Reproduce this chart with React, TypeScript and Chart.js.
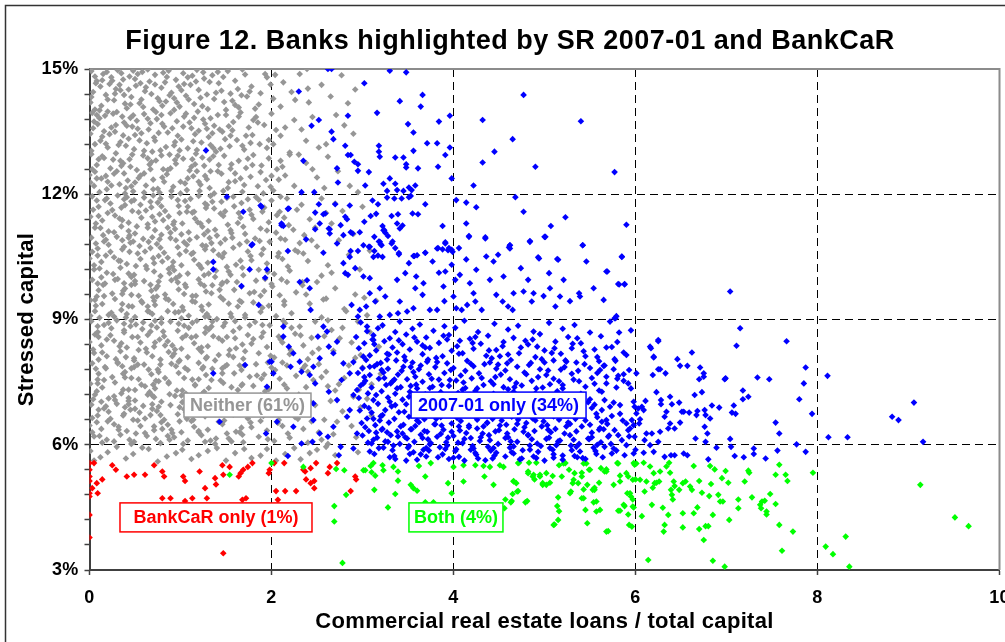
import React, { useEffect, useRef } from "react";
import { Chart, registerables } from "chart.js";
Chart.register(...registerables);

const chartTitle = "Figure 12. Banks highlighted by SR 2007-01 and BankCaR";
const xAxisTitle = "Commercial real estate loans / total capital";
const yAxisTitle = "Stressed capital";
const seriesNames = ["Neither (61%)", "2007-01 only (34%)", "BankCaR only (1%)", "Both (4%)"];
const xTickValues = [0, 2, 4, 6, 8, 10];
const yTickValues = [3, 6, 9, 12, 15];

// flat [x, y] pairs: x = CRE loans / total capital, y = stressed capital (%)
const neitherPts = [
0.02,14.95,0.15,14.88,0.31,14.97,0.44,14.82,0.58,14.93,0.72,14.86,0.87,14.96,1.03,14.9,1.18,14.98,1.35,14.85,1.52,14.95,1.68,14.99,0.08,14.71,0.22,14.64,0.37,14.75,0.51,14.6,0.66,14.7,0.79,14.55,0.95,14.74,1.11,14.62,1.26,14.77,1.42,14.66,1.6,14.72,1.78,14.58,1.95,14.8,0.04,14.45,0.18,14.38,0.29,14.52,0.46,14.33,0.61,14.47,0.75,14.3,0.9,14.43,1.06,14.36,1.2,14.5,1.37,14.28,1.55,14.41,1.73,14.34,0.01,14.2,0.13,14.12,0.27,14.25,0.41,14.06,0.55,14.18,0.7,14.03,0.84,14.22,0.99,14.1,1.15,14.16,1.3,14.04,1.48,14.21,1.64,14.08,1.86,14.15,0.35,14.9,0.64,14.99,0.98,14.58,1.25,14.92,0.12,14.58,0.06,14.82,0.24,14.8,0.5,14.76,0.83,14.68,1.08,14.8,0.33,14.62,0.68,14.4,0.2,14.27,0.57,14.27,0.93,14.3,1.22,14.31,0.06,14.03,0.38,14.38,1.45,14.48,0.8,14.12,2.39,15.0,1.93,14.88,2.04,14.86,2.92,14.51,2.4,14.53,2.22,14.45,2.84,14.18,2.41,14.2,2.26,14.26,2.65,14.34,1.88,14.42,2.1,14.1,
0.07,14.66,0.19,14.93,0.28,14.41,0.39,14.17,0.53,14.88,0.62,14.56,0.77,14.23,0.85,14.81,0.93,14.02,1.01,14.49,1.13,14.84,1.24,14.11,1.32,14.69,1.41,14.93,1.57,14.24,1.63,14.52,1.71,14.87,1.82,14.05,1.99,14.63,0.02,14.33,0.11,14.01,0.25,14.72,0.43,14.51,0.48,14.96,0.59,14.09,0.72,14.63,0.88,14.37,1.09,14.27,1.17,14.7,1.39,14.43,1.5,14.02,1.67,14.37,2.13,14.68,2.31,14.88,2.55,14.62,2.77,14.85,
0.14,14.73,0.34,14.49,0.56,14.66,0.81,14.91,1.04,14.64,1.29,14.39,1.47,14.81,1.76,14.46,2.02,14.29,0.45,14.15,0.96,14.2,1.6,14.14,
0.03,13.95,0.17,13.88,0.3,13.97,0.45,13.83,0.6,13.92,0.74,13.8,0.89,13.94,1.04,13.86,1.19,13.98,1.33,13.82,1.5,13.9,1.66,13.96,1.83,13.85,2.0,13.93,0.09,13.68,0.24,13.6,0.38,13.72,0.53,13.57,0.67,13.7,0.82,13.62,0.96,13.75,1.12,13.58,1.27,13.69,1.43,13.55,1.58,13.73,1.75,13.6,1.92,13.66,0.01,13.45,0.14,13.38,0.28,13.5,0.43,13.33,0.57,13.46,0.71,13.36,0.86,13.48,1.01,13.31,1.16,13.44,1.31,13.37,1.46,13.5,1.62,13.3,1.79,13.42,2.1,13.4,0.06,13.2,0.2,13.12,0.34,13.25,0.49,13.08,0.63,13.22,0.78,13.05,0.93,13.17,1.08,13.1,1.23,13.24,1.39,13.02,1.54,13.15,1.7,13.07,1.87,13.2,2.2,13.0,2.45,13.85,2.33,13.55,2.6,13.2,2.8,13.65,2.52,13.12,2.71,13.9,0.11,13.82,0.36,13.86,0.52,13.76,0.79,13.9,1.1,13.72,1.37,13.64,0.04,13.58,0.22,13.44,0.47,13.62,0.65,13.55,0.97,13.4,1.2,13.52,0.12,13.28,0.4,13.16,0.72,13.28,0.99,13.05,1.33,13.18,1.55,13.4,1.97,13.3,2.15,13.6,
0.05,13.74,0.16,13.51,0.26,13.93,0.32,13.18,0.41,13.64,0.55,13.29,0.64,13.81,0.76,13.47,0.84,13.13,0.91,13.58,1.06,13.93,1.14,13.27,1.25,13.79,1.35,13.46,1.44,13.09,1.53,13.63,1.64,13.86,1.72,13.4,1.85,13.72,1.95,13.11,2.05,13.54,0.02,13.04,0.2,13.98,0.37,13.41,0.48,13.89,0.69,13.02,0.8,13.69,1.03,13.62,1.18,13.06,1.29,13.57,1.49,13.32,1.77,13.23,2.25,13.78,2.38,13.28,2.9,13.45,
0.08,13.9,0.29,13.66,0.5,13.42,0.73,13.97,0.94,13.25,1.15,13.83,1.36,13.11,1.57,13.53,1.8,13.78,2.02,13.2,0.18,13.21,0.6,13.04,1.41,13.9,1.68,13.16,
0.02,12.96,0.16,12.87,0.29,12.98,0.44,12.84,0.59,12.93,0.73,12.81,0.88,12.95,1.03,12.85,1.17,12.97,1.32,12.83,1.48,12.92,1.64,12.8,1.8,12.94,1.97,12.86,0.08,12.7,0.23,12.62,0.37,12.74,0.52,12.58,0.66,12.71,0.81,12.6,0.95,12.73,1.1,12.57,1.26,12.68,1.41,12.55,1.56,12.72,1.72,12.63,1.89,12.69,2.06,12.6,0.0,12.46,0.13,12.38,0.27,12.49,0.42,12.33,0.56,12.45,0.7,12.35,0.85,12.48,1.0,12.3,1.14,12.43,1.29,12.36,1.45,12.49,1.6,12.31,1.77,12.42,1.94,12.34,2.15,12.45,0.05,12.2,0.19,12.12,0.33,12.24,0.48,12.07,0.62,12.21,0.77,12.04,0.92,12.18,1.07,12.1,1.22,12.23,1.37,12.02,1.52,12.15,1.68,12.06,1.85,12.19,2.02,12.09,2.25,12.2,2.38,12.75,2.5,12.4,2.62,12.9,2.73,12.55,2.86,12.2,2.3,12.95,2.95,12.05,0.1,12.84,0.34,12.8,0.64,12.86,0.94,12.82,1.24,12.88,0.03,12.6,0.3,12.55,0.6,12.5,0.89,12.62,1.18,12.55,0.2,12.3,0.5,12.28,0.8,12.4,1.08,12.38,0.11,12.05,0.4,12.15,0.7,12.12,1.0,12.02,1.32,12.15,1.6,12.5,2.1,12.8,
0.06,12.54,0.14,12.91,0.24,12.21,0.35,12.68,0.47,12.95,0.54,12.39,0.68,12.77,0.75,12.13,0.86,12.58,0.97,12.92,1.05,12.26,1.16,12.72,1.27,12.44,1.36,12.91,1.47,12.08,1.55,12.61,1.66,12.38,1.74,12.85,1.88,12.53,1.99,12.18,2.12,12.66,0.01,12.28,0.18,12.44,0.39,12.02,0.45,12.66,0.6,12.04,0.82,12.3,1.12,12.66,1.21,12.08,1.42,12.7,1.7,12.22,2.08,12.35,2.2,12.95,2.45,12.6,2.58,12.15,
0.08,12.38,0.26,12.83,0.46,12.19,0.67,12.6,0.9,12.08,1.13,12.84,1.33,12.55,1.53,12.29,1.79,12.7,2.0,12.44,0.38,12.5,0.79,12.93,1.2,12.3,1.91,12.02,
0.03,11.95,0.17,11.86,0.31,11.97,0.46,11.83,0.6,11.92,0.75,11.8,0.9,11.94,1.05,11.84,1.2,11.96,1.35,11.82,1.51,11.91,1.67,11.79,1.83,11.93,2.0,11.85,2.17,11.9,0.1,11.7,0.25,11.62,0.39,11.74,0.54,11.57,0.68,11.69,0.83,11.6,0.98,11.72,1.13,11.56,1.28,11.67,1.44,11.54,1.59,11.71,1.76,11.63,1.92,11.68,2.09,11.58,0.01,11.46,0.14,11.37,0.28,11.49,0.43,11.32,0.57,11.44,0.72,11.35,0.87,11.47,1.02,11.3,1.16,11.42,1.31,11.36,1.47,11.48,1.63,11.31,1.8,11.41,1.97,11.33,2.14,11.44,0.06,11.2,0.21,11.11,0.35,11.23,0.5,11.06,0.64,11.2,0.79,11.03,0.94,11.17,1.09,11.09,1.24,11.22,1.4,11.01,1.55,11.14,1.71,11.05,1.88,11.18,2.05,11.08,2.24,11.15,2.33,11.75,2.42,11.4,2.55,11.9,2.66,11.3,2.78,11.6,2.9,11.05,2.36,11.02,2.6,11.55,3.0,11.7,0.08,11.85,0.38,11.88,0.67,11.82,0.97,11.86,1.27,11.78,0.2,11.55,0.47,11.6,0.77,11.52,1.07,11.58,1.37,11.66,0.07,11.3,0.36,11.38,0.64,11.28,0.93,11.34,1.22,11.3,0.15,11.02,0.43,11.12,0.72,11.14,1.01,11.04,1.3,11.12,1.64,11.55,
0.04,11.63,0.12,11.19,0.23,11.78,0.33,11.42,0.41,11.93,0.52,11.23,0.62,11.61,0.7,11.97,0.81,11.38,0.89,11.08,0.99,11.55,1.11,11.89,1.19,11.33,1.29,11.74,1.38,11.15,1.49,11.59,1.58,11.94,1.69,11.22,1.78,11.51,1.86,11.87,1.95,11.13,2.06,11.5,0.19,11.9,0.44,11.01,0.56,11.75,0.79,11.71,0.92,11.28,1.15,11.58,1.33,11.96,1.52,11.27,1.74,11.88,2.19,11.26,2.28,11.63,2.48,11.2,2.7,11.78,
0.1,11.48,0.27,11.09,0.49,11.86,0.69,11.46,0.86,11.2,1.08,11.7,1.26,11.04,1.45,11.82,1.66,11.44,1.9,11.58,2.1,11.94,0.35,11.68,0.78,11.9,1.56,11.07,
0.02,10.96,0.16,10.87,0.3,10.98,0.45,10.84,0.59,10.93,0.74,10.81,0.89,10.95,1.04,10.85,1.18,10.97,1.34,10.83,1.49,10.92,1.65,10.8,1.82,10.94,1.98,10.86,2.15,10.91,2.31,10.83,0.09,10.7,0.23,10.62,0.38,10.74,0.53,10.58,0.67,10.71,0.82,10.6,0.97,10.73,1.12,10.57,1.27,10.68,1.42,10.55,1.58,10.72,1.74,10.63,1.91,10.69,2.08,10.59,2.26,10.66,0.0,10.46,0.13,10.38,0.27,10.49,0.41,10.33,0.56,10.45,0.71,10.35,0.86,10.48,1.01,10.3,1.15,10.43,1.3,10.36,1.46,10.49,1.61,10.31,1.78,10.42,1.95,10.34,2.12,10.45,2.4,10.4,0.05,10.2,0.19,10.12,0.34,10.24,0.49,10.07,0.63,10.21,0.78,10.04,0.93,10.18,1.08,10.1,1.23,10.23,1.38,10.02,1.53,10.15,1.69,10.06,1.86,10.19,2.03,10.09,2.2,10.17,2.5,10.75,2.62,10.3,2.74,10.9,2.85,10.55,2.97,10.2,2.55,10.05,3.08,10.65,0.07,10.82,0.36,10.9,0.65,10.86,0.95,10.9,1.24,10.78,0.18,10.53,0.44,10.62,0.76,10.52,1.06,10.64,1.36,10.66,0.05,10.3,0.34,10.4,0.62,10.28,0.92,10.38,1.21,10.3,0.13,10.01,0.43,10.1,0.71,10.15,0.99,10.05,1.31,10.1,2.35,10.58,
0.03,10.62,0.11,10.22,0.21,10.79,0.32,10.41,0.43,10.96,0.51,10.28,0.61,10.63,0.69,10.97,0.8,10.39,0.88,10.11,0.99,10.56,1.1,10.91,1.2,10.31,1.28,10.76,1.39,10.17,1.48,10.59,1.57,10.96,1.68,10.24,1.77,10.52,1.87,10.88,1.96,10.14,2.07,10.51,0.18,10.91,0.46,10.02,0.55,10.76,0.78,10.72,0.91,10.27,1.14,10.6,1.32,10.95,1.51,10.26,1.73,10.87,2.18,10.27,2.29,10.62,2.44,10.9,2.66,10.12,
0.09,10.53,0.26,10.09,0.48,10.87,0.7,10.47,0.87,10.21,1.07,10.79,1.26,10.06,1.44,10.83,1.66,10.41,1.89,10.56,2.1,10.94,0.36,10.68,0.77,10.92,1.55,10.07,
0.03,9.95,0.17,9.86,0.31,9.97,0.46,9.83,0.6,9.92,0.75,9.8,0.9,9.94,1.05,9.84,1.2,9.96,1.35,9.82,1.51,9.91,1.67,9.79,1.83,9.93,2.0,9.85,2.17,9.9,2.34,9.82,0.1,9.7,0.25,9.62,0.39,9.74,0.54,9.57,0.68,9.69,0.83,9.6,0.98,9.72,1.13,9.56,1.28,9.67,1.44,9.54,1.59,9.71,1.76,9.63,1.92,9.68,2.09,9.58,2.27,9.65,0.01,9.46,0.14,9.37,0.28,9.49,0.43,9.32,0.57,9.44,0.72,9.35,0.87,9.47,1.02,9.3,1.16,9.42,1.31,9.36,1.47,9.48,1.63,9.31,1.8,9.41,1.97,9.33,2.14,9.44,2.42,9.38,0.06,9.2,0.21,9.11,0.35,9.23,0.5,9.06,0.64,9.2,0.79,9.03,0.94,9.17,1.09,9.09,1.24,9.22,1.4,9.01,1.55,9.14,1.71,9.05,1.88,9.18,2.05,9.08,2.22,9.15,2.5,9.9,2.6,9.5,2.7,9.75,2.8,9.25,2.92,9.6,3.05,9.1,2.55,9.05,3.15,9.45,0.09,9.86,0.38,9.87,0.67,9.83,0.97,9.89,1.26,9.81,0.16,9.56,0.46,9.59,0.74,9.55,1.04,9.61,1.34,9.63,0.07,9.33,0.36,9.37,0.64,9.31,0.92,9.37,1.23,9.31,0.11,9.04,0.41,9.13,0.69,9.13,1.01,9.03,1.29,9.13,2.38,9.6,
0.06,9.47,0.15,9.83,0.24,9.16,0.36,9.61,0.4,9.05,0.5,9.92,0.58,9.4,0.66,9.18,0.73,9.74,0.84,9.5,0.95,9.99,1.03,9.22,1.13,9.44,1.22,9.86,1.31,9.06,1.43,9.71,1.53,9.38,1.62,9.9,1.71,9.11,1.81,9.66,1.9,9.28,2.01,9.79,0.01,9.09,0.28,9.95,0.47,9.31,0.7,9.53,0.98,9.18,1.17,9.57,1.46,9.88,1.65,9.45,1.93,9.97,2.14,9.35,2.34,9.9,2.57,9.48,2.82,9.2,3.02,9.52,
0.08,9.55,0.27,9.07,0.5,9.85,0.71,9.45,0.86,9.2,1.06,9.78,1.27,9.07,1.45,9.84,1.67,9.42,1.88,9.57,2.11,9.96,0.37,9.69,0.76,9.91,1.56,9.06,
0.02,8.96,0.16,8.87,0.3,8.98,0.45,8.84,0.59,8.93,0.74,8.81,0.89,8.95,1.04,8.85,1.18,8.97,1.34,8.83,1.49,8.92,1.65,8.8,1.82,8.94,1.98,8.86,2.15,8.91,2.31,8.83,2.48,8.95,0.09,8.7,0.23,8.62,0.38,8.74,0.53,8.58,0.67,8.71,0.82,8.6,0.97,8.73,1.12,8.57,1.27,8.68,1.42,8.55,1.58,8.72,1.74,8.63,1.91,8.69,2.08,8.59,2.26,8.66,2.44,8.56,0.0,8.46,0.13,8.38,0.27,8.49,0.41,8.33,0.56,8.45,0.71,8.35,0.86,8.48,1.01,8.3,1.15,8.43,1.3,8.36,1.46,8.49,1.61,8.31,1.78,8.42,1.95,8.34,2.12,8.45,2.35,8.38,0.05,8.2,0.19,8.12,0.34,8.24,0.49,8.07,0.63,8.21,0.78,8.04,0.93,8.18,1.08,8.1,1.23,8.23,1.38,8.02,1.53,8.15,1.69,8.06,1.86,8.19,2.03,8.09,2.2,8.17,2.4,8.05,2.58,8.6,2.68,8.25,2.78,8.8,2.88,8.45,2.98,8.15,3.08,8.7,3.18,8.35,2.62,8.98,2.95,8.95,0.09,8.84,0.38,8.9,0.68,8.86,0.98,8.9,1.28,8.8,0.19,8.52,0.47,8.58,0.77,8.52,1.06,8.62,1.36,8.6,0.04,8.28,0.33,8.36,0.62,8.3,0.91,8.38,1.2,8.3,0.1,8.04,0.4,8.1,0.69,8.12,0.99,8.02,1.29,8.1,1.6,8.55,2.22,8.8,
0.06,8.64,0.14,8.21,0.24,8.79,0.35,8.43,0.46,8.97,0.54,8.27,0.64,8.63,0.72,8.97,0.83,8.38,0.91,8.12,1.02,8.56,1.13,8.92,1.23,8.33,1.31,8.76,1.42,8.15,1.51,8.58,1.6,8.96,1.71,8.24,1.8,8.53,1.9,8.87,1.99,8.13,2.1,8.52,0.21,8.92,0.49,8.02,0.58,8.77,0.81,8.71,0.94,8.28,1.17,8.6,1.35,8.95,1.54,8.27,1.76,8.86,2.21,8.27,2.32,8.62,2.52,8.3,2.75,8.55,2.92,8.08,
0.1,8.58,0.29,8.05,0.51,8.88,0.72,8.45,0.87,8.22,1.09,8.8,1.28,8.07,1.47,8.84,1.68,8.4,1.89,8.58,2.13,8.97,0.38,8.69,0.79,8.92,1.58,8.1,2.45,8.2,2.66,8.75,
0.03,7.95,0.17,7.86,0.31,7.97,0.46,7.83,0.6,7.92,0.75,7.8,0.9,7.94,1.05,7.84,1.2,7.96,1.35,7.82,1.51,7.91,1.67,7.79,1.83,7.93,2.0,7.85,2.17,7.9,2.34,7.82,2.52,7.93,0.1,7.7,0.25,7.62,0.39,7.74,0.54,7.57,0.68,7.69,0.83,7.6,0.98,7.72,1.13,7.56,1.28,7.67,1.44,7.54,1.59,7.71,1.76,7.63,1.92,7.68,2.09,7.58,2.27,7.65,2.46,7.55,0.01,7.46,0.14,7.37,0.28,7.49,0.43,7.32,0.57,7.44,0.72,7.35,0.87,7.47,1.02,7.3,1.16,7.42,1.31,7.36,1.47,7.48,1.63,7.31,1.8,7.41,1.97,7.33,2.14,7.44,2.38,7.38,0.06,7.2,0.21,7.11,0.35,7.23,0.5,7.06,0.64,7.2,0.79,7.03,0.94,7.17,1.09,7.09,1.24,7.22,1.4,7.01,1.55,7.14,1.71,7.05,1.88,7.18,2.05,7.08,2.22,7.15,2.42,7.04,2.6,7.75,2.7,7.3,2.8,7.6,2.9,7.15,3.0,7.85,3.1,7.45,3.2,7.7,2.65,7.05,2.85,7.9,3.05,7.1,0.07,7.82,0.36,7.88,0.65,7.8,0.95,7.88,1.24,7.82,0.16,7.55,0.46,7.6,0.76,7.52,1.04,7.6,1.34,7.55,0.08,7.28,0.37,7.32,0.66,7.26,0.96,7.3,1.26,7.27,0.13,7.03,0.43,7.12,0.71,7.14,1.02,7.02,1.32,7.1,1.7,7.9,2.3,7.2,
0.09,7.47,0.18,7.83,0.27,7.16,0.39,7.61,0.43,7.05,0.53,7.92,0.61,7.4,0.69,7.18,0.76,7.74,0.87,7.5,0.98,7.99,1.06,7.22,1.16,7.44,1.25,7.86,1.34,7.06,1.46,7.71,1.56,7.38,1.65,7.9,1.74,7.11,1.84,7.66,1.93,7.28,2.04,7.79,0.04,7.09,0.31,7.95,0.5,7.31,0.73,7.53,1.01,7.18,1.2,7.57,1.49,7.88,1.68,7.45,1.96,7.97,2.17,7.35,2.37,7.9,2.55,7.62,2.74,7.45,2.96,7.32,
0.09,7.56,0.28,7.07,0.49,7.86,0.7,7.44,0.88,7.21,1.08,7.79,1.27,7.06,1.46,7.83,1.67,7.42,1.89,7.58,2.12,7.97,0.37,7.7,0.78,7.92,1.57,7.08,2.4,7.75,2.62,7.4,
0.02,6.96,0.16,6.87,0.3,6.98,0.45,6.84,0.59,6.93,0.74,6.81,0.89,6.95,1.04,6.85,1.18,6.97,1.34,6.83,1.49,6.92,1.65,6.8,1.82,6.94,1.98,6.86,2.15,6.91,2.31,6.83,2.48,6.95,0.09,6.7,0.23,6.62,0.38,6.74,0.53,6.58,0.67,6.71,0.82,6.6,0.97,6.73,1.12,6.57,1.27,6.68,1.42,6.55,1.58,6.72,1.74,6.63,1.91,6.69,2.08,6.59,2.26,6.66,2.44,6.56,0.0,6.46,0.13,6.38,0.27,6.49,0.41,6.33,0.56,6.45,0.71,6.35,0.86,6.48,1.01,6.3,1.15,6.43,1.3,6.36,1.46,6.49,1.61,6.31,1.78,6.42,1.95,6.34,2.12,6.45,2.35,6.38,0.05,6.2,0.19,6.12,0.34,6.24,0.49,6.07,0.63,6.21,0.78,6.04,0.93,6.18,1.08,6.1,1.23,6.23,1.38,6.02,1.53,6.15,1.69,6.06,1.86,6.19,2.03,6.09,2.2,6.17,2.4,6.05,2.58,6.6,2.68,6.25,2.78,6.8,2.88,6.45,2.98,6.9,2.62,6.02,3.1,6.7,0.1,6.84,0.39,6.9,0.69,6.86,0.99,6.9,0.2,6.56,0.48,6.6,0.79,6.54,1.07,6.62,0.03,6.3,0.32,6.36,0.61,6.28,0.9,6.36,1.2,6.3,0.14,6.05,0.44,6.12,0.73,6.14,1.03,6.02,1.33,6.1,1.65,6.3,2.25,6.9,
0.03,6.64,0.11,6.21,0.21,6.79,0.32,6.43,0.43,6.97,0.51,6.27,0.61,6.63,0.69,6.97,0.8,6.38,0.88,6.12,0.99,6.56,1.1,6.92,1.2,6.33,1.28,6.76,1.39,6.15,1.48,6.58,1.57,6.96,1.68,6.24,1.77,6.53,1.87,6.87,1.96,6.13,2.07,6.52,0.18,6.92,0.46,6.02,0.55,6.77,0.78,6.71,0.91,6.28,1.14,6.6,1.32,6.95,1.51,6.27,1.73,6.86,2.18,6.27,2.29,6.62,2.52,6.3,2.72,6.55,2.93,6.18,
0.08,6.54,0.27,6.08,0.5,6.86,0.71,6.44,0.86,6.21,1.06,6.78,1.27,6.07,1.45,6.84,1.67,6.41,1.88,6.57,2.11,6.96,0.37,6.7,0.76,6.91,1.56,6.08,2.38,6.75,2.55,6.12,
0.01,5.85,0.12,5.7,0.3,5.95,0.48,5.78,0.65,5.9,0.85,5.72,1.02,5.88,1.2,5.75,1.4,5.92,1.6,5.8,1.78,5.68,1.95,5.9,2.15,5.78,2.32,5.65,2.5,5.88,2.7,5.75,0.05,5.62,2.95,5.82,0.2,5.82,0.4,5.67,0.58,5.93,0.75,5.6,0.95,5.8,1.12,5.66,1.3,5.85,1.5,5.62,1.7,5.9,1.88,5.74,2.05,5.62,2.25,5.92,2.42,5.8,2.6,5.95
];

const only2007Pts = [
2.62,15.0,2.66,15.0,3.3,14.96,3.48,14.92,3.02,14.66,2.3,14.46,3.66,14.38,4.77,14.38,3.41,14.23,3.64,14.1,2.84,13.88,3.16,13.95,2.52,13.78,2.44,13.64,3.5,13.68,3.84,13.74,3.96,13.88,4.32,13.78,5.4,13.75,2.66,13.5,2.68,13.32,3.56,13.48,3.71,13.22,3.82,13.22,3.96,13.12,4.65,13.32,2.81,13.16,2.84,12.94,2.87,12.94,3.18,13.16,3.18,13.02,3.19,12.9,3.56,13.04,3.91,12.94,4.45,13.02,2.35,12.8,2.91,12.78,2.95,12.72,3.36,12.88,3.45,12.88,3.48,12.72,3.48,12.64,3.61,12.62,3.83,12.66,4.32,12.76,4.9,12.66,5.77,12.53,2.72,12.62,2.95,12.56,3.07,12.53,2.73,12.28,3.03,12.21,3.3,12.38,3.36,12.25,3.38,12.1,3.27,12.08,3.23,12.25,3.45,12.08,3.51,12.16,3.54,12.1,3.58,12.21,3.98,12.38,4.22,12.21,2.33,12.05,2.47,12.05,3.27,11.92,3.35,11.9,3.43,11.9,3.51,11.93,3.53,11.96,4.03,11.86,4.14,11.8,4.25,11.69,4.68,11.93,3.69,11.76,3.11,11.85,3.17,11.76,1.88,11.73,2.18,11.65,2.52,11.76,2.57,11.52,2.48,11.56,2.7,11.76,2.86,11.73,2.81,11.46,2.83,11.4,2.76,11.26,3.02,11.34,3.09,11.48,3.15,11.53,3.32,11.48,3.39,11.52,3.38,11.3,3.41,11.18,3.44,11.25,3.55,11.54,3.61,11.52,3.22,11.24,3.24,11.14,3.25,11.08,3.28,11.0,3.88,11.24,4.14,11.3,4.77,11.58,5.23,11.45,5.07,11.24,5.9,11.27,2.11,11.3,2.13,11.24,2.48,11.16,2.64,11.16,2.64,11.06,2.79,11.02,2.87,11.09,2.97,11.09,2.38,10.92,3.13,10.98,3.18,10.87,3.2,10.8,3.33,10.87,3.36,10.71,4.17,10.98,4.35,10.94,5.0,10.98,4.84,10.88,5.42,10.78,3.91,10.85,3.83,10.71,3.88,10.68,3.95,10.71,3.98,10.67,4.06,10.71,4.62,10.78,4.61,10.73,2.18,10.64,2.57,10.6,2.87,10.64,2.95,10.64,3.08,10.74,3.13,10.64,3.17,10.53,3.22,10.5,3.4,10.56,3.56,10.52,3.6,10.54,3.69,10.6,5.85,10.5,4.93,10.49,5.14,10.45,1.78,10.78,1.28,13.05,1.51,11.94,
2.89,11.06,3.23,11.14,3.01,10.78,3.07,10.74,3.12,10.5,3.19,10.86,3.21,10.78,3.32,10.82,3.4,10.59,3.57,10.52,3.51,10.35,3.59,10.03,3.69,10.6,3.77,10.39,3.82,10.7,3.91,10.82,3.94,10.66,3.99,10.62,3.91,10.15,3.98,10.31,3.84,10.12,4.02,9.95,4.07,10.07,4.14,10.44,4.17,11.0,4.35,10.97,4.36,10.51,4.44,10.39,4.49,10.55,4.4,9.95,4.62,10.78,4.62,10.7,4.74,10.23,4.84,10.86,4.94,10.46,5.01,10.98,5.05,10.11,5.15,10.43,5.42,10.78,5.68,10.15,5.81,9.85,5.88,9.85,5.85,10.51,5.54,9.75,5.38,9.63,5.39,9.55,5.28,9.44,5.17,9.55,5.12,9.31,4.99,9.56,4.88,9.63,4.82,9.95,4.86,9.43,4.77,9.67,4.66,9.63,4.6,9.31,4.65,9.23,4.54,9.43,4.47,9.59,4.31,9.23,4.24,9.43,4.22,9.63,4.15,9.35,4.09,9.23,4.03,9.27,4.0,9.55,3.9,9.44,3.82,9.23,3.74,9.23,3.66,9.59,3.58,9.75,3.56,9.27,3.49,9.19,3.41,9.43,3.39,9.15,3.3,9.11,3.25,9.55,3.19,9.75,3.14,9.43,3.08,9.63,3.01,10.03,3.04,9.31,2.95,9.07,2.88,9.35,2.86,10.5,2.84,10.07,2.81,10.11,2.79,10.35,2.92,10.23,3.08,9.99,3.38,9.95,3.47,10.11,3.67,9.87,3.89,9.79,4.18,9.87,4.25,10.19,4.55,10.03,5.06,9.75,5.21,9.95,5.46,10.39,5.65,9.47,5.78,9.03,6.16,8.35,6.25,8.51,6.2,8.11,
5.69,10.15,5.82,9.84,5.88,9.84,7.04,9.67,5.77,9.03,5.79,9.08,5.82,8.69,5.68,8.33,5.87,8.21,5.77,8.05,5.78,8.01,5.65,7.89,5.61,7.79,5.76,7.81,5.87,7.69,5.93,7.79,6.01,7.71,5.81,7.65,5.87,7.53,5.92,7.47,5.95,7.35,5.79,7.37,5.68,7.47,5.63,7.27,6.17,8.31,6.25,8.48,6.2,8.09,6.25,7.81,6.27,7.81,6.19,7.67,6.33,7.71,6.46,8.05,6.49,7.89,6.57,7.89,6.62,8.21,6.71,7.85,6.75,7.71,6.7,7.57,6.75,7.63,6.73,7.26,6.65,7.19,6.23,7.26,6.38,7.15,6.4,6.97,6.48,7.01,6.28,7.07,6.28,6.97,6.11,7.05,6.07,6.91,6.09,6.83,5.98,7.03,5.99,6.91,6.03,6.87,6.01,6.75,5.96,6.59,6.05,6.61,6.04,6.51,5.98,6.47,5.94,6.39,5.9,6.51,5.92,6.35,5.72,6.91,5.74,6.69,5.83,6.74,5.83,6.95,5.76,7.01,5.66,7.07,5.63,6.83,5.68,6.59,5.65,6.37,5.77,6.35,5.81,6.23,5.85,6.11,5.7,6.19,5.66,5.95,5.76,5.91,5.9,5.99,5.99,6.19,6.12,6.27,6.18,6.27,6.1,6.11,6.16,5.99,6.25,6.07,6.27,6.31,6.36,6.39,6.38,6.51,6.43,6.39,6.49,6.53,6.32,6.67,6.34,6.79,6.53,6.79,6.59,6.77,6.68,6.81,6.76,6.83,6.77,6.71,6.82,6.63,6.67,6.71,6.76,6.43,6.79,6.27,6.77,6.07,6.66,6.15,6.51,6.79,6.84,6.94,6.92,6.89,6.99,7.59,6.98,7.57,7.08,6.94,7.06,6.77,7.1,6.74,7.18,7.3,7.18,7.09,7.24,7.15,7.11,8.37,7.15,8.79,7.34,7.61,7.47,7.57,7.54,6.53,7.58,6.27,7.66,8.48,7.8,7.09,7.85,7.47,7.87,7.85,7.94,6.74,7.77,6.01,7.87,5.83,7.56,5.86,7.3,5.91,7.3,5.78,7.05,5.95,7.04,6.14,6.89,5.93,6.8,5.65,7.09,5.73,7.19,5.7,7.43,5.67,8.11,7.65,8.12,6.18,8.33,6.18,8.82,6.67,8.89,6.59,9.06,7.01,9.16,6.07,6.43,5.75,6.53,5.79,6.57,5.75,6.39,5.75,6.2,5.83,6.32,5.71,6.09,5.81,5.98,5.79,5.88,5.75,5.74,5.79,
1.69,11.58,1.36,10.38,1.36,10.2,1.67,9.8,1.76,10.2,1.86,9.35,1.95,10.2,1.93,10.0,1.79,10.8,1.89,11.7,2.11,11.26,2.19,11.66,2.42,9.75,2.31,9.9,2.39,9.94,2.43,9.23,2.53,11.3,2.59,11.54,2.63,11.18,2.72,10.82,2.13,8.83,2.0,7.99,2.13,8.59,2.19,8.35,2.21,7.87,2.31,7.99,2.24,8.19,2.33,7.75,2.42,7.67,2.48,7.47,2.46,7.87,2.53,8.07,2.63,8.35,2.61,8.71,2.57,8.83,2.51,8.59,2.72,8.47,2.68,8.19,2.79,7.95,2.77,7.55,2.86,7.71,2.9,7.19,2.72,7.07,2.63,7.27,2.46,6.99,1.43,6.55,1.71,7.91,1.36,7.71,1.98,7.99,2.02,7.71,1.95,7.39,2.06,6.55,2.24,6.43,2.46,6.59,2.53,6.27,2.68,6.43,2.83,6.67,2.94,6.27,2.86,6.83,3.01,7.47,3.08,7.87,3.12,8.51,3.05,8.83,3.19,9.07,2.97,9.23,3.01,8.11,1.94,6.27,2.18,5.73,2.33,6.03,2.45,6.07,2.62,6.19,2.74,5.75,2.76,5.95,2.9,5.91,
2.98,8.93,3.22,8.86,3.41,8.95,3.63,8.88,3.9,8.84,4.12,8.97,4.45,8.9,4.71,8.85,5.05,8.92,5.33,8.87,5.72,8.95,3.05,8.72,3.17,8.79,3.36,8.7,3.55,8.78,3.78,8.73,4.02,8.8,4.27,8.7,4.6,8.76,4.88,8.71,5.2,8.78,5.5,8.69,5.95,8.74,2.93,8.58,3.12,8.62,3.3,8.55,3.48,8.64,3.7,8.57,3.95,8.63,4.18,8.54,4.38,8.61,4.66,8.56,4.95,8.65,5.26,8.58,5.62,8.6,3.02,8.43,3.24,8.48,3.44,8.41,3.6,8.47,3.84,8.44,4.07,8.49,4.3,8.42,4.55,8.46,4.82,8.4,5.12,8.47,5.4,8.43,5.8,8.46,2.96,8.31,3.15,8.26,3.33,8.33,3.52,8.28,3.74,8.32,3.98,8.25,4.22,8.3,4.47,8.27,4.74,8.33,5.0,8.26,5.3,8.31,5.55,8.28,3.08,8.14,3.27,8.18,3.46,8.11,3.66,8.17,3.88,8.12,4.1,8.19,4.36,8.13,4.6,8.16,4.9,8.1,5.18,8.18,5.45,8.12,5.9,8.15,
3.11,8.52,3.38,8.21,3.57,8.57,3.81,8.08,4.04,8.36,4.24,8.58,4.51,8.12,4.79,8.49,5.08,8.2,5.36,8.55,3.27,8.04,3.69,8.33,3.93,8.52,4.42,8.07,4.92,8.35,5.23,8.02,
3.47,8.02,3.58,7.63,3.66,8.38,3.74,7.36,3.82,7.98,3.89,8.61,3.96,7.55,4.06,8.18,4.13,7.77,4.21,8.44,4.26,7.35,4.34,7.93,4.39,8.26,4.46,7.62,4.54,8.36,4.59,7.95,4.67,7.38,4.72,8.19,4.8,7.69,4.87,8.52,4.91,7.35,4.97,8.05,5.04,7.78,5.11,8.31,5.16,7.52,5.24,7.99,5.31,8.42,5.37,7.77,5.43,8.24,5.52,7.6,5.58,8.1,5.66,7.9,5.74,8.34,5.8,7.58,3.13,8.41,3.21,7.79,3.29,8.16,3.35,7.56,3.4,8.5,3.53,7.86,
2.9,7.98,3.04,8.03,3.2,7.96,3.37,8.02,3.55,7.97,3.72,8.04,3.93,7.95,4.15,8.01,4.4,7.97,4.63,8.03,4.85,7.96,5.1,8.02,5.35,7.97,5.6,8.0,3.0,7.83,3.13,7.88,3.28,7.82,3.45,7.87,3.62,7.81,3.8,7.86,4.0,7.84,4.22,7.88,4.47,7.82,4.7,7.87,4.95,7.81,5.22,7.86,5.5,7.84,2.95,7.72,3.08,7.67,3.23,7.73,3.39,7.68,3.56,7.74,3.73,7.69,3.9,7.72,4.08,7.66,4.28,7.71,4.52,7.68,4.78,7.73,5.02,7.67,5.3,7.7,5.58,7.72,3.03,7.53,3.18,7.58,3.33,7.52,3.49,7.57,3.66,7.51,3.84,7.56,4.03,7.54,4.2,7.59,4.41,7.52,4.62,7.57,4.86,7.53,5.1,7.58,5.38,7.52,2.98,7.42,3.1,7.37,3.26,7.43,3.42,7.38,3.59,7.44,3.77,7.39,3.95,7.41,4.13,7.36,4.33,7.43,4.55,7.38,4.75,7.42,4.98,7.37,5.2,7.43,5.45,7.39,3.06,7.23,3.21,7.28,3.36,7.22,3.52,7.27,3.69,7.21,3.86,7.26,4.05,7.24,4.24,7.29,4.44,7.22,4.66,7.27,4.9,7.23,5.14,7.28,5.4,7.22,
3.02,7.62,3.16,7.93,3.31,7.47,3.43,7.77,3.53,7.41,3.64,7.9,3.76,7.58,3.87,7.43,3.97,7.79,4.11,7.49,4.19,7.94,4.31,7.6,4.44,7.45,4.57,7.78,4.69,7.48,4.83,7.91,4.93,7.62,5.06,7.45,5.18,7.8,5.32,7.56,5.44,7.93,5.55,7.46,5.68,7.63,3.24,7.6,3.71,7.99,4.49,7.92,5.0,7.97,
2.96,7.12,3.12,7.07,3.28,7.13,3.44,7.08,3.61,7.14,3.79,7.09,3.97,7.11,4.16,7.06,4.36,7.13,4.57,7.08,4.8,7.12,5.03,7.07,5.27,7.13,5.5,7.09,3.02,6.93,3.17,6.98,3.32,6.92,3.48,6.97,3.65,6.91,3.83,6.96,4.01,6.94,4.2,6.99,4.4,6.92,4.62,6.97,4.85,6.93,5.08,6.98,5.32,6.92,5.55,6.96,2.97,6.82,3.1,6.77,3.25,6.83,3.4,6.78,3.57,6.84,3.74,6.79,3.92,6.81,4.1,6.76,4.3,6.83,4.5,6.78,4.72,6.82,4.95,6.77,5.18,6.83,5.42,6.78,3.05,6.63,3.2,6.68,3.35,6.62,3.51,6.67,3.68,6.61,3.86,6.66,4.04,6.64,4.23,6.69,4.43,6.62,4.64,6.67,4.87,6.63,5.1,6.68,5.34,6.62,5.58,6.66,
2.94,7.31,3.07,6.88,3.15,7.19,3.22,6.71,3.3,7.03,3.38,7.35,3.46,6.79,3.51,7.15,5.48,7.02,5.57,6.74,5.6,7.3,5.52,6.88,3.12,6.62,3.36,6.95,3.6,7.35,4.1,7.32,4.6,7.33,5.2,7.35,
2.99,6.52,3.14,6.47,3.29,6.53,3.45,6.48,3.62,6.54,3.8,6.49,3.98,6.51,4.17,6.46,4.37,6.53,4.58,6.48,4.8,6.52,5.03,6.47,5.26,6.53,5.5,6.48,3.07,6.33,3.22,6.38,3.38,6.32,3.54,6.37,3.71,6.31,3.89,6.36,4.07,6.34,4.26,6.39,4.46,6.32,4.67,6.37,4.89,6.33,5.12,6.38,5.35,6.32,5.6,6.36,3.0,6.22,3.16,6.17,3.31,6.23,3.47,6.18,3.64,6.24,3.82,6.19,4.0,6.21,4.19,6.16,4.39,6.23,4.6,6.18,4.82,6.22,5.05,6.17,5.28,6.23,5.52,6.18,3.1,6.03,3.25,6.08,3.41,6.02,3.57,6.07,3.74,6.01,3.92,6.06,4.1,6.04,4.29,6.09,4.49,6.02,4.7,6.07,4.92,6.03,5.15,6.08,5.38,6.02,5.62,6.06,3.18,5.92,3.33,5.87,3.5,5.93,3.67,5.88,3.85,5.94,4.03,5.89,4.22,5.91,4.41,5.86,4.62,5.93,4.84,5.88,5.06,5.92,5.3,5.87,5.54,5.93,3.35,5.73,3.52,5.78,3.7,5.72,3.88,5.77,4.06,5.71,4.25,5.76,4.45,5.74,4.66,5.79,4.88,5.72,5.1,5.77,5.33,5.73,5.57,5.78,3.6,5.64,3.95,5.66,4.35,5.63,4.75,5.67,5.2,5.64,5.45,5.66,
3.03,6.42,3.12,6.12,3.19,6.58,3.27,6.3,3.34,5.98,3.42,6.44,3.49,6.15,3.56,5.82,3.6,6.58,3.68,6.33,3.75,6.04,3.83,5.7,3.87,6.46,3.94,6.17,4.02,5.85,4.08,6.57,4.14,6.28,4.21,5.97,4.27,5.67,4.33,6.44,4.4,6.11,4.47,5.81,4.53,6.58,4.59,6.27,4.66,5.96,4.73,5.65,4.78,6.42,4.86,6.13,4.93,5.83,4.99,6.56,5.07,6.3,5.13,5.99,5.2,5.74,5.24,6.44,5.32,6.12,5.39,5.84,5.45,6.58,5.52,6.29,5.58,6.0,5.64,5.7,5.69,6.5,3.3,5.7,3.48,5.62,3.7,5.92,4.12,5.62,4.57,5.72,5.0,5.62,5.42,5.68,3.08,5.84,
3.15,6.29,3.23,5.93,3.39,6.2,3.53,6.37,3.64,5.77,3.72,6.13,3.79,6.49,3.91,5.9,3.98,6.31,4.05,6.05,4.17,6.42,4.24,5.8,4.3,6.18,4.37,6.52,4.44,5.92,4.5,6.35,4.63,6.08,4.7,6.5,4.76,5.87,4.82,6.24,4.9,6.58,4.96,5.97,5.04,6.36,5.1,5.69,5.17,6.1,5.28,6.5,5.35,5.95,5.48,6.15,5.61,6.4,5.73,6.02,
3.06,6.05,3.13,5.78,3.21,6.36,3.28,6.07,3.36,5.66,3.44,6.27,3.51,5.97,3.58,6.45,3.66,6.16,3.73,5.86,3.81,6.62,3.86,6.26,3.93,5.98,4.0,5.69,4.06,6.44,4.12,6.14,4.19,5.88,4.26,6.6,4.32,6.27,4.38,5.95,4.43,5.67,4.51,6.46,4.57,6.16,4.64,5.82,4.71,6.6,4.77,6.31,4.84,5.98,4.91,5.68,4.97,6.44,5.02,6.14,5.09,5.88,5.16,6.6,5.22,6.27,5.29,5.98,5.36,5.7,5.41,6.44,5.49,6.13,5.56,5.85,5.63,6.55,5.71,6.22,5.79,5.86,5.86,6.58,5.93,6.2,6.0,5.88
];

const bankcarPts = [
0.0,5.56,0.05,5.56,0.0,5.4,0.0,5.24,0.0,5.13,0.03,4.96,0.0,4.84,0.0,4.76,0.09,4.84,0.14,5.17,0.08,5.08,0.0,4.32,0.0,3.78,0.25,5.51,0.29,5.4,0.41,5.24,0.49,5.28,0.61,5.28,0.71,5.51,0.8,5.36,0.82,5.24,0.8,4.72,0.89,4.72,1.03,5.24,1.05,5.13,1.05,4.65,1.13,4.72,1.21,5.36,1.27,4.96,1.29,4.72,1.38,5.2,1.39,5.05,1.46,5.51,1.47,5.28,1.47,3.4,1.54,5.47,1.64,5.24,1.66,5.32,1.68,4.68,1.72,4.72,1.69,5.4,1.74,5.47,1.79,5.56,1.98,5.4,1.97,5.32,2.03,5.56,2.05,4.89,2.07,4.68,2.15,4.89,2.14,5.56,2.27,4.89,2.35,5.4,2.37,5.36,2.38,5.17,2.43,5.44,2.43,5.08,2.47,4.96,2.47,5.13,2.49,5.56,2.62,5.32,2.64,5.47,2.72,5.56,2.87,4.89,2.92,5.24,2.93,5.17
];

const bothPts = [
2.0,5.56,1.54,5.28,2.35,5.47,2.69,4.53,2.69,4.16,2.71,5.42,2.78,3.17,2.8,5.39,2.82,4.8,3.01,5.39,3.03,5.39,3.09,5.49,3.1,5.34,3.12,5.56,3.14,5.26,3.13,4.92,3.22,5.51,3.23,5.39,3.28,4.5,3.34,5.47,3.39,5.36,3.39,5.14,3.36,4.82,3.53,5.04,3.56,4.96,3.6,4.9,3.62,5.49,3.69,5.24,3.69,4.62,3.78,4.62,3.75,5.56,3.94,5.08,4.0,5.47,3.98,4.84,4.11,5.12,4.11,5.51,4.24,5.51,4.33,5.49,4.34,5.24,4.44,5.04,4.4,5.47,4.51,5.51,4.56,4.48,4.63,4.62,4.66,5.12,4.7,4.88,4.71,5.56,4.79,4.62,4.82,5.36,4.87,5.24,4.95,5.24,4.98,5.08,5.02,5.32,5.1,4.08,5.14,4.53,5.15,4.2,5.16,5.51,5.23,5.56,5.28,4.84,5.31,5.08,5.33,5.32,5.41,4.72,5.41,5.24,5.45,4.44,5.47,5.04,5.49,5.4,5.54,4.62,5.55,4.92,5.62,5.44,5.66,5.36,5.68,3.92,5.8,5.56,5.81,4.42,5.83,5.26,5.87,4.56,5.91,4.84,5.97,5.16,5.93,4.08,5.97,4.52,5.98,5.56,
4.55,5.47,4.66,5.13,4.69,5.08,4.71,4.89,4.65,4.82,4.57,4.69,4.64,4.65,4.81,4.65,4.72,5.57,4.83,5.57,4.82,5.32,4.88,5.28,4.89,5.17,4.95,5.28,4.91,5.57,4.98,5.04,5.02,5.04,5.06,5.09,5.09,5.25,5.11,4.09,5.15,4.74,5.16,4.41,5.19,5.24,5.21,5.55,5.27,5.4,5.29,4.88,5.32,5.16,5.37,5.08,5.41,5.33,5.43,5.55,5.46,5.55,5.43,4.93,5.43,4.72,5.47,4.12,5.5,5.4,5.53,4.92,5.55,4.97,5.57,4.64,5.6,5.09,5.61,4.44,5.57,4.4,5.68,5.41,5.68,5.36,5.7,3.93,5.76,5.04,5.81,5.55,5.83,5.12,5.83,4.42,5.88,4.53,5.9,5.32,5.92,5.24,5.92,4.33,5.94,4.84,5.95,4.76,5.97,4.69,5.96,4.04,5.98,4.5,5.99,5.52,6.0,5.17,6.01,5.55,6.05,5.16,6.07,4.29,6.09,5.57,6.1,4.88,6.12,5.12,6.14,3.24,6.16,5.48,6.18,4.56,6.19,4.97,6.2,5.32,6.21,5.08,6.23,5.09,6.26,5.12,6.27,5.36,6.3,4.49,6.31,3.92,6.32,4.08,6.34,5.48,6.36,4.32,6.37,5.57,6.38,5.33,6.39,4.92,6.4,4.8,6.41,4.69,6.42,5.12,6.43,5.01,6.48,4.92,6.52,5.08,6.52,4.36,6.52,4.02,6.55,5.12,6.6,5.0,6.62,4.92,6.64,5.49,6.64,4.36,6.68,4.5,6.7,5.13,6.7,3.98,6.73,4.85,6.75,3.72,6.77,4.05,6.8,4.05,6.81,4.77,6.82,5.49,6.83,5.06,6.85,3.22,6.85,4.32,6.87,5.41,6.91,4.8,6.93,4.64,6.95,5.2,6.96,4.64,6.98,3.08,6.99,5.37,7.02,5.09,7.03,4.2,7.13,4.69,7.13,4.48,7.2,5.12,7.24,5.38,7.25,5.33,7.28,4.74,7.37,4.56,7.38,4.48,7.39,4.64,7.42,4.66,7.44,4.4,7.44,4.33,7.48,4.82,7.54,4.58,7.54,5.28,7.58,5.52,7.58,4.08,7.61,3.46,7.65,5.28,7.67,5.13,7.73,3.92,7.95,5.33,8.09,3.56,8.17,3.38,8.31,3.8,8.35,3.08,9.13,5.04,9.51,4.26,9.66,4.05
];

const labelBoxes = [
  { name: seriesNames[0], x: 1.736, y: 6.95, color: "#969696", w: 127, h: 24 },
  { name: seriesNames[1], x: 4.495, y: 6.95, color: "#0000ff", w: 175, h: 26 },
  { name: seriesNames[2], x: 1.39, y: 4.26, color: "#ff0000", w: 192, h: 29 },
  { name: seriesNames[3], x: 4.027, y: 4.26, color: "#00ff00", w: 94, h: 29 },
];

const FONT = "'Liberation Sans', Arial, Helvetica, sans-serif";

function toXY(flat: number[]) {
  const out: { x: number; y: number }[] = [];
  for (let i = 0; i + 1 < flat.length; i += 2) out.push({ x: flat[i], y: flat[i + 1] });
  return out;
}

function isMajor(v: number, list: number[]) {
  return list.some((m) => Math.abs(m - v) < 1e-6);
}

const decor = {
  id: "decor",
  beforeDraw(chart: any) {
    const { ctx, width, height } = chart;
    ctx.save();
    ctx.fillStyle = "#ffffff";
    ctx.fillRect(0, 0, width, height);
    ctx.strokeStyle = "#333333";
    ctx.lineWidth = 1.5;
    ctx.strokeRect(5.5, 5.5, width + 20, height + 20);
    ctx.restore();
    ctx.letterSpacing = "0.3px";
  },
  beforeDatasetsDraw(chart: any) {
    const { ctx, chartArea: a } = chart;
    ctx.save();
    ctx.strokeStyle = "#8c8c8c";
    ctx.lineWidth = 2;
    ctx.beginPath();
    ctx.moveTo(a.left, a.top);
    ctx.lineTo(a.right, a.top);
    ctx.lineTo(a.right, a.bottom);
    ctx.stroke();
    ctx.restore();
  },
  afterDatasetsDraw(chart: any) {
    const { ctx } = chart;
    const xs = chart.scales.x;
    const ys = chart.scales.y;
    ctx.save();
    ctx.letterSpacing = "0px";
    for (const b of labelBoxes) {
      const cx = xs.getPixelForValue(b.x);
      const cy = ys.getPixelForValue(b.y);
      ctx.fillStyle = "#ffffff";
      ctx.fillRect(cx - b.w / 2, cy - b.h / 2, b.w, b.h);
      ctx.strokeStyle = b.color;
      ctx.lineWidth = 1.5;
      ctx.strokeRect(cx - b.w / 2, cy - b.h / 2, b.w, b.h);
      ctx.fillStyle = b.color;
      ctx.font = `bold 18px ${FONT}`;
      ctx.textAlign = "center";
      ctx.textBaseline = "middle";
      ctx.fillText(b.name, cx, cy + 1);
    }
    ctx.restore();
  },
  afterDraw(chart: any) {
    const { ctx } = chart;
    ctx.save();
    ctx.letterSpacing = "0.5px";
    ctx.fillStyle = "#000000";
    ctx.font = `bold 27px ${FONT}`;
    ctx.textAlign = "center";
    ctx.textBaseline = "middle";
    ctx.fillText(chartTitle, 510, 42);
    ctx.restore();
  },
};

export default function App() {
  const ref = useRef<HTMLCanvasElement>(null);
  useEffect(() => {
    const canvas = ref.current;
    if (!canvas) return;
    const mk = (label: string, pts: number[], color: string, order: number) => ({
      label,
      data: toXY(pts),
      backgroundColor: color,
      borderColor: color,
      borderWidth: 0,
      pointStyle: "rectRot",
      pointRadius: 3.3,
      pointHoverRadius: 3.3,
      order,
    });
    const chart = new Chart(canvas, {
      type: "scatter",
      data: {
        datasets: [
          mk(seriesNames[1], only2007Pts, "#0000ff", 1),
          mk(seriesNames[3], bothPts, "#00ff00", 2),
          mk(seriesNames[2], bankcarPts, "#ff0000", 3),
          mk(seriesNames[0], neitherPts, "#969696", 4),
        ] as any,
      },
      options: {
        animation: false,
        responsive: false,
        devicePixelRatio: 1,
        events: [],
        layout: { padding: { top: 69, right: 5.5, bottom: 0, left: 0 } },
        plugins: {
          legend: { display: false },
          title: { display: false },
          tooltip: { enabled: false },
        },
        scales: {
          x: {
            type: "linear",
            min: 0,
            max: 10,
            afterFit: (s: any) => {
              s.height = 72;
              s.paddingLeft = 0;
              s.paddingRight = 0;
            },
            ticks: {
              stepSize: 2,
              autoSkip: false,
              maxRotation: 0,
              padding: 12,
              color: "#000",
              font: { family: FONT, size: 18, weight: "bold" },
              callback: (v: any) => (isMajor(Number(v), xTickValues) ? String(Math.round(Number(v))) : ""),
            },
            grid: {
              color: (c: any) => (c.tick && c.tick.value > 0 && c.tick.value < 10 ? "#000000" : "rgba(0,0,0,0)"),
              lineWidth: 1,
              tickLength: 5,
              tickColor: "#404040",
              tickWidth: 1.5,
            },
            border: { display: true, color: "#404040", width: 2, dash: [8, 5] },
            title: {
              display: true,
              text: xAxisTitle,
              color: "#000",
              font: { family: FONT, size: 22, weight: "bold" },
              padding: { top: 0, bottom: 6.8 },
            },
          },
          y: {
            type: "linear",
            min: 3,
            max: 15,
            afterFit: (s: any) => {
              s.width = 89.5;
              s.paddingTop = 0;
              s.paddingBottom = 0;
            },
            ticks: {
              stepSize: 0.6,
              maxTicksLimit: 100,
              autoSkip: false,
              padding: 6,
              color: "#000",
              font: { family: FONT, size: 18, weight: "bold" },
              callback: (v: any) => (isMajor(Number(v), yTickValues) ? `${Math.round(Number(v))}%` : ""),
            },
            grid: {
              color: (c: any) => {
                const v = c.tick ? c.tick.value : NaN;
                return isMajor(v, yTickValues) && v > 3 && v < 15 ? "#000000" : "rgba(0,0,0,0)";
              },
              lineWidth: 1,
              tickLength: 5,
              tickColor: "#404040",
              tickWidth: 1.5,
            },
            border: { display: true, color: "#404040", width: 2, dash: [8, 5] },
            title: {
              display: true,
              text: yAxisTitle,
              color: "#000",
              font: { family: FONT, size: 22, weight: "bold" },
              padding: { top: 13.8, bottom: 0 },
            },
          },
        },
      } as any,
      plugins: [decor],
    });
    return () => chart.destroy();
  }, []);
  return (
    <div style={{ position: "fixed", left: 0, top: 0, width: 1005, height: 642, background: "#fff" }}>
      <canvas ref={ref} width={1005} height={642} style={{ display: "block", width: 1005, height: 642 }} />
    </div>
  );
}
